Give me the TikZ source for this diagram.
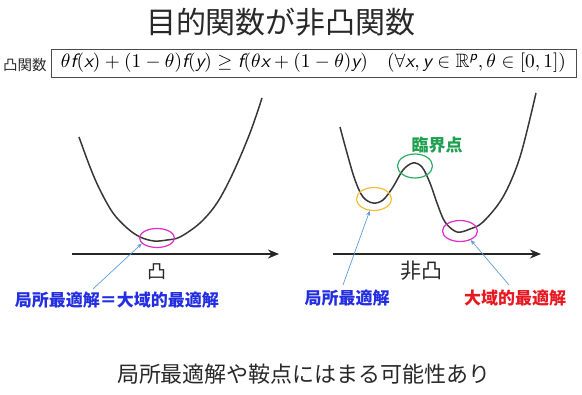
\documentclass[tikz,border=0pt]{standalone}
\usepackage{amsmath,amssymb}
\usepackage{fontspec}
\setmainfont{Noto Sans CJK JP}
\usetikzlibrary{arrows.meta,shapes.geometric}
\definecolor{txtgray}{RGB}{40,40,40}
\definecolor{lblblue}{RGB}{35,45,225}
\definecolor{lblred}{RGB}{230,25,35}
\definecolor{lblgreen}{RGB}{30,160,80}
\definecolor{ringmag}{RGB}{220,45,200}
\definecolor{ringyel}{RGB}{245,190,50}
\definecolor{ringgrn}{RGB}{45,170,100}
\definecolor{arrblue}{RGB}{95,155,220}
\definecolor{curvegray}{RGB}{55,55,55}
\newcommand{\fsz}[1]{\fontsize{#1}{#1}\selectfont}
\newcommand{\sfv}[1]{\text{\sffamily\itshape #1}}
\newcommand{\vf}{\sfv{f}}
\newcommand{\vx}{\sfv{x}}
\newcommand{\vy}{\sfv{y}}
\begin{document}
\begin{tikzpicture}[x=1pt,y=-1pt,
  curve/.style={draw=curvegray,line width=1.5pt,smooth,tension=0.55},
  axisline/.style={draw=black!85,line width=1.8pt,-{Stealth[length=11pt,width=9pt]}},
  ring/.style={draw,line width=1.2pt,ellipse,minimum width=35pt,inner sep=0pt},
  pointer/.style={draw=arrblue,line width=0.7pt,-{Stealth[length=5pt,width=4pt]}},
  lbl/.style={font=\fsz{17}\bfseries,inner sep=0pt},
  plain/.style={text=txtgray,inner sep=0pt}]
\useasboundingbox (0,0) rectangle (582,395);

% title
\node[plain,font=\fsz{30}] (title) at (281,22) {目的関数が非凸関数};

% convex definition
\node[plain,font=\fsz{14.5},anchor=west] (cvxlbl) at (3,65) {凸関数};
\node[draw=black!70,line width=0.8pt,minimum width=525pt,minimum height=28pt,inner sep=0pt] (formula) at (313.5,63)
  {\resizebox{505pt}{!}{$\theta\vf(\vx)+(1-\theta)\vf(\vy)\geq \vf(\theta\vx+(1-\theta)\vy)\quad(\forall\vx,\vy\in\mathbb{R}^{\sfv{p}},\theta\in[0,1])$}};

% left: convex
\coordinate (ls) at (72,254);
\coordinate (le) at (279,254);
\draw[axisline] (ls) -- (le);
\draw[curve] plot coordinates {(79,137) (90,167) (100,190) (113,213) (127,228) (140,237) (154,241) (167,240) (180,237) (200,223) (217,203) (233,173) (250,133) (262,98)};
\node[ring,draw=ringmag,minimum height=19pt] (lmin) at (157,238) {};
\node[plain,font=\fsz{19}] (convex) at (157,272) {凸};
\node[lbl,text=lblblue] (lbl1) at (117,300) {局所最適解＝大域的最適解};
\coordinate (p1) at (93,289);
\draw[pointer] (p1) -- (lmin.200);

% right: nonconvex
\coordinate (rs) at (333,254);
\coordinate (re) at (541,254);
\draw[axisline] (rs) -- (re);
\draw[curve] plot coordinates {(340,127) (347,153) (355,180) (363,197) (373,203) (383,200) (393,187) (403,170) (413,163) (422,167) (430,183) (437,203) (445,222) (457,232) (470,229) (483,222) (503,197) (520,157) (536,93)};
\node[ring,draw=ringyel,minimum height=23pt] (rloc) at (374,199) {};
\node[ring,draw=ringgrn,minimum height=24pt] (rcrit) at (415,166) {};
\node[ring,draw=ringmag,minimum height=21pt] (rglob) at (460,231) {};
\node[lbl,text=lblgreen] (crit) at (437,145) {臨界点};
\node[plain,font=\fsz{21}] (nonconvex) at (421,271) {非凸};
\node[lbl,text=lblblue] (lbl2) at (347,298) {局所最適解};
\node[lbl,text=lblred] (lbl3) at (515,298) {大域的最適解};
\coordinate (p2) at (343,285);
\coordinate (p3) at (509,285);
\draw[pointer] (p2) -- (rloc.250);
\draw[pointer] (p3) -- (rglob.-40);

% bottom
\node[plain,font=\fsz{22}] (bottom) at (304,374) {局所最適解や鞍点にはまる可能性あり};
\end{tikzpicture}
\end{document}
